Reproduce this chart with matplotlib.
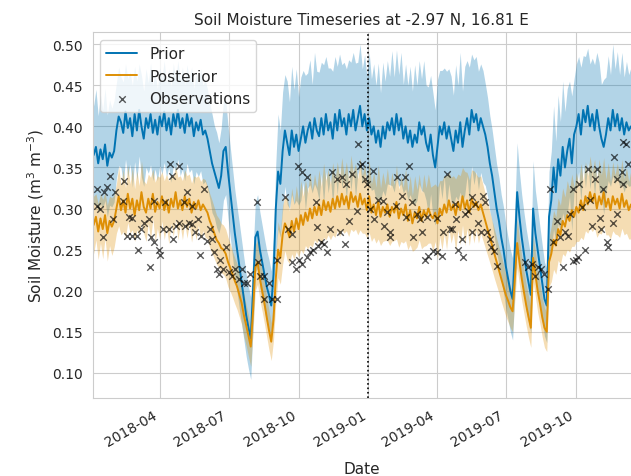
"""Soil moisture prior / posterior timeseries with observations."""
import matplotlib

matplotlib.use("Agg")
import matplotlib.dates as mdates
import matplotlib.pyplot as plt
import numpy as np
import seaborn as sns

START = np.datetime64("2018-01-01")
STEP_DAYS = 3
SPLIT_DATE = np.datetime64("2019-01-01")

# prior ensemble mean, every 3 days from 2018-01-01
prior_mean = [
    0.390, 0.365, 0.375, 0.355, 0.372, 0.360, 0.378, 0.352, 0.368, 0.362,
    0.370, 0.395, 0.412, 0.405, 0.392, 0.418, 0.398, 0.410, 0.388, 0.415,
    0.395, 0.420, 0.400, 0.385, 0.410, 0.398, 0.415, 0.392, 0.408, 0.390,
    0.412, 0.400, 0.418, 0.395, 0.410, 0.390, 0.415, 0.400, 0.420, 0.398,
    0.410, 0.392, 0.415, 0.400, 0.410, 0.388, 0.405, 0.395, 0.408, 0.390,
    0.395, 0.385, 0.370, 0.355, 0.345, 0.335, 0.325, 0.340, 0.370, 0.375,
    0.345, 0.320, 0.295, 0.270, 0.250, 0.230, 0.210, 0.190, 0.170, 0.155,
    0.142, 0.200, 0.265, 0.272, 0.250, 0.235, 0.220, 0.205, 0.195, 0.182,
    0.220, 0.300, 0.345, 0.330, 0.370, 0.395, 0.380, 0.365, 0.395, 0.375,
    0.390, 0.370, 0.385, 0.400, 0.380, 0.395, 0.405, 0.385, 0.410, 0.395,
    0.388, 0.410, 0.390, 0.415, 0.395, 0.405, 0.385, 0.415, 0.395, 0.420,
    0.400, 0.410, 0.390, 0.415, 0.400, 0.420, 0.395, 0.410, 0.425, 0.400,
    0.415, 0.395, 0.410, 0.390, 0.400, 0.380, 0.395, 0.375, 0.400, 0.385,
    0.405, 0.395, 0.410, 0.390, 0.415, 0.395, 0.410, 0.385, 0.400, 0.380,
    0.395, 0.375, 0.390, 0.380, 0.405, 0.390, 0.400, 0.380, 0.370, 0.390,
    0.365, 0.350, 0.375, 0.400, 0.390, 0.405, 0.385, 0.400, 0.385, 0.370,
    0.395, 0.380, 0.405, 0.375, 0.395, 0.410, 0.390, 0.420, 0.405, 0.415,
    0.395, 0.410, 0.400, 0.390, 0.375, 0.355, 0.340, 0.320, 0.300, 0.285,
    0.265, 0.250, 0.230, 0.215, 0.200, 0.190, 0.250, 0.320, 0.290, 0.265,
    0.245, 0.225, 0.210, 0.195, 0.300, 0.270, 0.250, 0.230, 0.210, 0.190,
    0.182, 0.290, 0.310, 0.350, 0.320, 0.360, 0.340, 0.375, 0.350, 0.370,
    0.385, 0.355, 0.390, 0.400, 0.415, 0.390, 0.420, 0.405, 0.425, 0.400,
    0.415, 0.395, 0.420, 0.400, 0.385, 0.375, 0.390, 0.410, 0.395, 0.420,
    0.400, 0.415, 0.395, 0.410, 0.390, 0.405, 0.395, 0.400,
]
prior_spread = [
    0.065, 0.060, 0.070, 0.058, 0.066, 0.060, 0.068, 0.062, 0.064, 0.060,
    0.062, 0.058, 0.060, 0.055, 0.062, 0.058, 0.060, 0.056, 0.062, 0.058,
    0.060, 0.056, 0.062, 0.058, 0.060, 0.055, 0.062, 0.058, 0.060, 0.056,
    0.060, 0.058, 0.062, 0.056, 0.060, 0.058, 0.062, 0.056, 0.060, 0.058,
    0.062, 0.058, 0.060, 0.056, 0.062, 0.058, 0.060, 0.056, 0.062, 0.060,
    0.062, 0.060, 0.058, 0.060, 0.056, 0.058, 0.055, 0.058, 0.060, 0.058,
    0.056, 0.055, 0.054, 0.053, 0.052, 0.052, 0.051, 0.050, 0.050, 0.050,
    0.050, 0.045, 0.042, 0.045, 0.046, 0.045, 0.044, 0.044, 0.043, 0.042,
    0.045, 0.055, 0.070, 0.065, 0.072, 0.068, 0.075, 0.065, 0.078, 0.070,
    0.080, 0.066, 0.075, 0.068, 0.082, 0.070, 0.076, 0.066, 0.080, 0.072,
    0.078, 0.068, 0.085, 0.070, 0.076, 0.066, 0.082, 0.070, 0.078, 0.068,
    0.075, 0.068, 0.080, 0.066, 0.078, 0.070, 0.082, 0.068, 0.075, 0.070,
    0.072, 0.066, 0.080, 0.068, 0.076, 0.070, 0.082, 0.066, 0.078, 0.070,
    0.075, 0.066, 0.082, 0.070, 0.078, 0.068, 0.080, 0.066, 0.076, 0.070,
    0.078, 0.068, 0.085, 0.070, 0.075, 0.068, 0.080, 0.070, 0.078, 0.072,
    0.076, 0.070, 0.082, 0.068, 0.078, 0.066, 0.082, 0.070, 0.076, 0.068,
    0.080, 0.070, 0.085, 0.068, 0.078, 0.070, 0.082, 0.068, 0.076, 0.070,
    0.072, 0.066, 0.068, 0.062, 0.060, 0.058, 0.056, 0.055, 0.054, 0.053,
    0.052, 0.052, 0.051, 0.050, 0.050, 0.050, 0.052, 0.060, 0.055, 0.052,
    0.050, 0.050, 0.048, 0.046, 0.058, 0.052, 0.050, 0.048, 0.046, 0.045,
    0.045, 0.055, 0.060, 0.075, 0.062, 0.078, 0.066, 0.080, 0.068, 0.076,
    0.070, 0.082, 0.068, 0.076, 0.070, 0.082, 0.066, 0.080, 0.070, 0.076,
    0.068, 0.080, 0.070, 0.078, 0.066, 0.082, 0.070, 0.076, 0.068, 0.080,
    0.070, 0.076, 0.068, 0.080, 0.070, 0.074, 0.068, 0.072,
]

# posterior mean / spread on the same 3-day grid
post_mean = [
    0.295, 0.280, 0.290, 0.272, 0.288, 0.275, 0.292, 0.270, 0.285, 0.278,
    0.285, 0.300, 0.315, 0.298, 0.310, 0.295, 0.318, 0.300, 0.312, 0.292,
    0.310, 0.298, 0.320, 0.302, 0.295, 0.312, 0.300, 0.318, 0.296, 0.308,
    0.300, 0.315, 0.298, 0.310, 0.295, 0.312, 0.302, 0.320, 0.300, 0.310,
    0.298, 0.315, 0.302, 0.312, 0.295, 0.308, 0.300, 0.310, 0.298, 0.305,
    0.300, 0.295, 0.285, 0.278, 0.270, 0.262, 0.258, 0.252, 0.250, 0.245,
    0.235, 0.228, 0.220, 0.212, 0.205, 0.195, 0.185, 0.170, 0.158, 0.145,
    0.132, 0.175, 0.228, 0.235, 0.215, 0.200, 0.185, 0.168, 0.152, 0.138,
    0.165, 0.215, 0.250, 0.240, 0.268, 0.282, 0.275, 0.265, 0.285, 0.272,
    0.288, 0.275, 0.292, 0.280, 0.295, 0.285, 0.300, 0.288, 0.302, 0.292,
    0.305, 0.292, 0.310, 0.298, 0.308, 0.296, 0.312, 0.300, 0.315, 0.302,
    0.318, 0.305, 0.315, 0.300, 0.320, 0.308, 0.315, 0.302, 0.318, 0.305,
    0.312, 0.298, 0.315, 0.295, 0.305, 0.292, 0.308, 0.290, 0.302, 0.295,
    0.305, 0.290, 0.302, 0.295, 0.308, 0.288, 0.300, 0.292, 0.305, 0.285,
    0.298, 0.282, 0.295, 0.288, 0.302, 0.285, 0.298, 0.290, 0.300, 0.292,
    0.288, 0.295, 0.282, 0.300, 0.292, 0.305, 0.295, 0.310, 0.298, 0.305,
    0.292, 0.308, 0.298, 0.315, 0.300, 0.310, 0.295, 0.312, 0.302, 0.308,
    0.298, 0.305, 0.295, 0.285, 0.275, 0.265, 0.255, 0.245, 0.235, 0.225,
    0.215, 0.205, 0.195, 0.188, 0.180, 0.175, 0.215, 0.258, 0.235, 0.215,
    0.198, 0.182, 0.168, 0.155, 0.240, 0.220, 0.200, 0.185, 0.168, 0.155,
    0.150, 0.235, 0.245, 0.262, 0.255, 0.275, 0.268, 0.285, 0.278, 0.292,
    0.285, 0.298, 0.290, 0.302, 0.295, 0.310, 0.298, 0.315, 0.305, 0.320,
    0.308, 0.318, 0.300, 0.315, 0.305, 0.320, 0.302, 0.312, 0.298, 0.315,
    0.305, 0.312, 0.300, 0.318, 0.302, 0.310, 0.298, 0.305,
]
post_spread = [
    0.030, 0.035, 0.028, 0.034, 0.030, 0.036, 0.028, 0.034, 0.030, 0.035,
    0.032, 0.030, 0.036, 0.030, 0.038, 0.030, 0.035, 0.030, 0.038, 0.032,
    0.036, 0.030, 0.038, 0.032, 0.035, 0.030, 0.038, 0.030, 0.036, 0.032,
    0.038, 0.030, 0.036, 0.032, 0.038, 0.030, 0.036, 0.032, 0.038, 0.030,
    0.036, 0.032, 0.038, 0.030, 0.036, 0.032, 0.038, 0.030, 0.035, 0.032,
    0.035, 0.032, 0.033, 0.032, 0.031, 0.030, 0.030, 0.030, 0.030, 0.030,
    0.030, 0.029, 0.028, 0.028, 0.028, 0.027, 0.026, 0.026, 0.025, 0.025,
    0.024, 0.026, 0.028, 0.027, 0.026, 0.025, 0.025, 0.024, 0.024, 0.023,
    0.025, 0.030, 0.034, 0.032, 0.036, 0.033, 0.038, 0.032, 0.040, 0.034,
    0.040, 0.034, 0.042, 0.035, 0.040, 0.034, 0.044, 0.035, 0.040, 0.034,
    0.042, 0.035, 0.045, 0.036, 0.040, 0.034, 0.044, 0.035, 0.042, 0.036,
    0.044, 0.035, 0.042, 0.034, 0.045, 0.036, 0.040, 0.034, 0.044, 0.035,
    0.042, 0.034, 0.044, 0.035, 0.040, 0.034, 0.045, 0.035, 0.042, 0.034,
    0.044, 0.035, 0.042, 0.034, 0.045, 0.035, 0.040, 0.034, 0.044, 0.035,
    0.042, 0.034, 0.045, 0.035, 0.040, 0.034, 0.044, 0.035, 0.042, 0.034,
    0.040, 0.035, 0.044, 0.034, 0.042, 0.035, 0.045, 0.034, 0.040, 0.035,
    0.044, 0.034, 0.042, 0.035, 0.045, 0.034, 0.040, 0.035, 0.044, 0.034,
    0.040, 0.035, 0.034, 0.033, 0.032, 0.031, 0.030, 0.030, 0.029, 0.028,
    0.028, 0.027, 0.026, 0.026, 0.025, 0.025, 0.026, 0.030, 0.028, 0.027,
    0.026, 0.025, 0.025, 0.024, 0.028, 0.027, 0.026, 0.025, 0.024, 0.024,
    0.024, 0.030, 0.034, 0.036, 0.035, 0.038, 0.036, 0.040, 0.036, 0.042,
    0.038, 0.044, 0.036, 0.042, 0.035, 0.045, 0.036, 0.042, 0.035, 0.044,
    0.036, 0.042, 0.035, 0.045, 0.036, 0.042, 0.034, 0.044, 0.035, 0.042,
    0.036, 0.044, 0.035, 0.042, 0.034, 0.040, 0.035, 0.042,
]

# observations: day offset from 2018-01-01 and value
obs_day = [
    7, 16, 20, 24, 31, 43, 8, 11, 29, 15, 47, 49, 53, 42, 54, 60, 62, 66,
    70, 76, 79, 77, 82, 83, 89, 90, 95, 97, 102, 103, 106, 108, 115, 112,
    116, 122, 123, 126, 128, 132, 133, 136, 141, 145, 149, 143, 152, 156,
    161, 159, 165, 168, 169, 174, 178, 181, 185, 189, 194, 198, 201, 205,
    209, 218, 220, 222, 227, 228, 234, 238, 245, 244,
    255, 259, 264, 265, 270, 274, 278, 284, 288, 292, 298, 303, 307, 311,
    297, 314, 327, 334, 340, 272, 278, 284, 296, 317, 323, 330, 335, 343,
    350, 351, 354, 357, 360, 363, 367, 371, 373, 377, 384, 386, 390, 393,
    394, 402, 403, 409, 413, 415, 419, 423, 424, 429, 433, 435, 439, 442,
    443, 450, 455, 456, 462, 463, 468, 472,
    475, 479, 481, 483, 489, 488, 492, 496, 501, 505, 502, 509, 514, 516,
    518, 521, 525, 527, 531, 534, 571, 575, 580, 584, 588, 593, 597, 601,
    604, 608, 613, 617, 621, 624, 628, 630, 634, 639, 641, 635, 642, 650,
    647, 654, 657, 666, 663, 659, 670, 672, 674, 680, 681, 687, 689, 692,
    693, 699, 700, 701, 705, 707,
]
obs_val = [
    0.324, 0.320, 0.326, 0.340, 0.320, 0.333, 0.303, 0.300, 0.287, 0.265,
    0.266, 0.290, 0.289, 0.309, 0.266, 0.266, 0.250, 0.275, 0.283, 0.287,
    0.265, 0.229, 0.309, 0.259, 0.250, 0.244, 0.275, 0.308, 0.275, 0.354,
    0.340, 0.263, 0.352, 0.279, 0.283, 0.308, 0.279, 0.320, 0.283, 0.303,
    0.281, 0.271, 0.287, 0.266, 0.324, 0.244, 0.260, 0.275, 0.247, 0.263,
    0.226, 0.220, 0.238, 0.226, 0.253, 0.223, 0.218, 0.226, 0.214, 0.226,
    0.210, 0.210, 0.220, 0.308, 0.235, 0.218, 0.218, 0.190, 0.210, 0.190,
    0.190, 0.238,
    0.314, 0.275, 0.269, 0.235, 0.226, 0.238, 0.232, 0.241, 0.247, 0.250,
    0.254, 0.259, 0.257, 0.247, 0.277, 0.275, 0.272, 0.257, 0.285, 0.352,
    0.344, 0.338, 0.308, 0.344, 0.336, 0.338, 0.330, 0.342, 0.297, 0.378,
    0.352, 0.354, 0.336, 0.330, 0.300, 0.346, 0.287, 0.311, 0.309, 0.279,
    0.296, 0.271, 0.265, 0.303, 0.338, 0.315, 0.338, 0.290, 0.352, 0.308,
    0.265, 0.293, 0.287, 0.271, 0.238, 0.290, 0.242, 0.248, 0.247, 0.289,
    0.242, 0.272, 0.342, 0.275,
    0.275, 0.305, 0.287, 0.250, 0.241, 0.263, 0.293, 0.297, 0.314, 0.305,
    0.272, 0.283, 0.271, 0.315, 0.308, 0.271, 0.263, 0.253, 0.248, 0.230,
    0.235, 0.229, 0.232, 0.218, 0.229, 0.226, 0.220, 0.202, 0.324, 0.259,
    0.285, 0.265, 0.229, 0.271, 0.266, 0.293, 0.236, 0.238, 0.241, 0.324,
    0.330, 0.250, 0.302, 0.348, 0.311, 0.348, 0.336, 0.279, 0.289, 0.275,
    0.324, 0.259, 0.253, 0.283, 0.363, 0.293, 0.336, 0.344, 0.330, 0.381,
    0.378, 0.354,
]


def main() -> None:
    sns.set_style("whitegrid")
    blue, orange = "#0173b2", "#de8f05"

    pm = np.array(prior_mean)
    ps = np.array(prior_spread)
    qm = np.array(post_mean)
    qs = np.array(post_spread)
    t_prior = START + np.arange(len(pm)) * np.timedelta64(STEP_DAYS, "D")
    t_post = START + np.arange(len(qm)) * np.timedelta64(STEP_DAYS, "D")
    t_obs = START + np.array(obs_day) * np.timedelta64(1, "D")

    fig = plt.figure(figsize=(6.31, 4.77), dpi=100)
    ax = fig.add_axes([0.1466, 0.1635, 0.8534, 0.767])

    ax.fill_between(t_prior, pm - ps, pm + ps, color=blue, alpha=0.3, lw=0)
    ax.plot(t_prior, pm, color=blue, lw=1.4, label="Prior")
    ax.fill_between(t_post, qm - qs, qm + qs, color=orange, alpha=0.3, lw=0)
    ax.plot(t_post, qm, color=orange, lw=1.4, label="Posterior")
    ax.scatter(t_obs, obs_val, marker="x", color="k", s=22, lw=1.0,
               alpha=0.65, label="Observations", zorder=3)
    ax.axvline(SPLIT_DATE, color="k", ls=":", lw=1.2)

    ax.set_xlim(START + np.timedelta64(36, "h"), START + np.timedelta64(711, "D"))
    ax.set_ylim(0.0695, 0.5146)
    ax.set_yticks(np.arange(0.10, 0.501, 0.05))
    ax.yaxis.set_major_formatter(matplotlib.ticker.FormatStrFormatter("%.2f"))
    ax.xaxis.set_major_locator(mdates.MonthLocator(bymonth=[1, 4, 7, 10]))
    ax.xaxis.set_major_formatter(mdates.DateFormatter("%Y-%m"))
    for lbl in ax.get_xticklabels():
        lbl.set_rotation(30)
        lbl.set_ha("right")
    ax.tick_params(labelsize=10)
    ax.spines["right"].set_visible(False)

    ax.set_xlabel("Date", fontsize=11, labelpad=9)
    ax.set_ylabel("Soil Moisture (m$^3$ m$^{-3}$)", fontsize=11)
    ax.set_title("Soil Moisture Timeseries at -2.97 N, 16.81 E", fontsize=11)
    ax.legend(loc="upper left", fontsize=11)

    fig.savefig("out.png", dpi=100)


if __name__ == "__main__":
    main()
